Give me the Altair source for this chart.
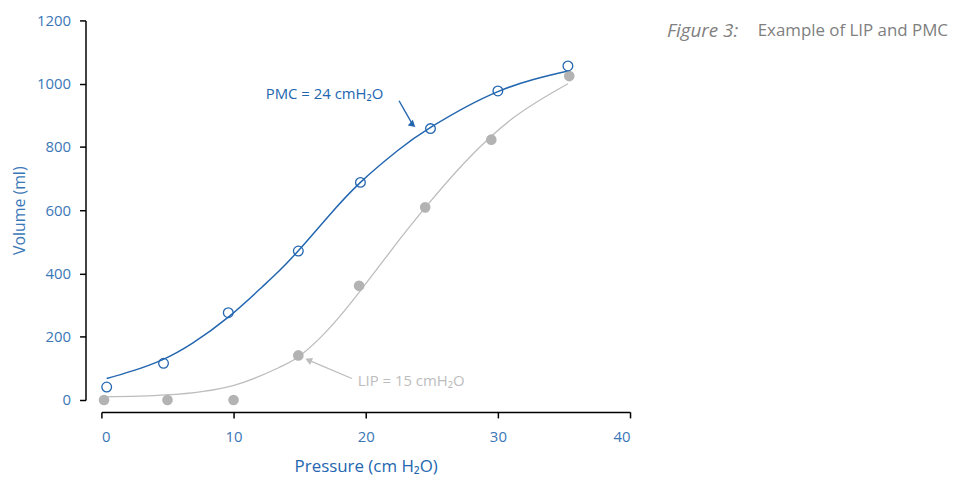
import altair as alt
import pandas as pd

# Measured points
blue_p = [0.4, 4.7, 9.6, 14.9, 19.6, 24.9, 30.0, 35.3]
blue_v = [41, 116, 276, 471, 688, 858, 977, 1056]
gray_p = [0.2, 5.0, 10.0, 14.9, 19.5, 24.5, 29.5, 35.4]
gray_v = [0, 0, 0, 141, 361, 609, 823, 1024]

# Fitted curves
bc_p = [0.4, 2.35, 4.6, 6.9, 9.6, 12.1, 13.4, 14.9, 17.2, 19.6, 22.4, 25.0, 30.0, 35.3]
bc_v = [68, 92, 127, 180, 262, 355, 406, 472, 582, 688, 788, 864, 975, 1040]
gc_p = [0.2, 4.9, 9.9, 13.4, 15.0, 17.1, 19.5, 22.2, 24.5, 27.4, 31.2, 35.3]
gc_v = [10, 16, 45, 102, 139, 220, 340, 488, 608, 747, 893, 1000]

x_ticks = [0, 10, 20, 30, 40]
y_ticks = [0, 200, 400, 600, 800, 1000, 1200]

BLUE = "#2366b0"
LBLUE = "#3a77b7"
GRAY = "#b3b3b3"
LGRAY = "#bdbdbd"
FONT = "Open Sans"

X = alt.X("x:Q", scale=alt.Scale(domain=[0, 40], nice=False),
          axis=alt.Axis(values=x_ticks, format="d", title="Pressure (cm H₂O)", offset=12,
                        grid=False, domainColor="black", domainWidth=1.5,
                        tickColor="black", tickWidth=1.5, tickSize=6,
                        labelColor=LBLUE, labelFontSize=15, labelFont=FONT,
                        labelPadding=12, titleColor=BLUE, titleFontSize=17,
                        titleFont=FONT, titleFontWeight="normal", titlePadding=14))
Y = alt.Y("y:Q", scale=alt.Scale(domain=[0, 1200], nice=False),
          axis=alt.Axis(values=y_ticks, format="d", title="Volume (ml)", offset=16,
                        grid=False, domainColor="black", domainWidth=1.5,
                        tickColor="black", tickWidth=1.5, tickSize=6,
                        labelColor=LBLUE, labelFontSize=15, labelFont=FONT,
                        labelPadding=9, titleColor=LBLUE, titleFontSize=16,
                        titleFont=FONT, titleFontWeight="normal", titlePadding=9))

bpts = pd.DataFrame({"x": blue_p, "y": blue_v})
gpts = pd.DataFrame({"x": gray_p, "y": gray_v})
bcur = pd.DataFrame({"x": bc_p, "y": bc_v})
gcur = pd.DataFrame({"x": gc_p, "y": gc_v})

gray_line = alt.Chart(gcur).mark_line(color=LGRAY, strokeWidth=1.3, interpolate="natural").encode(x=X, y=Y)
blue_line = alt.Chart(bcur).mark_line(color=BLUE, strokeWidth=1.5, interpolate="natural").encode(x=X, y=Y)
gray_dots = alt.Chart(gpts).mark_point(shape="circle", filled=True, color=GRAY, size=115, opacity=1).encode(x=X, y=Y)
blue_dots = alt.Chart(bpts).mark_point(shape="circle", filled=False, color=BLUE, size=95, strokeWidth=1.3, opacity=1).encode(x=X, y=Y)

# Annotations
pmc_text = pd.DataFrame({"x": [21.33], "y": [968], "t": ["PMC = 24 cmH₂O"]})
pmc_arrow = pd.DataFrame({"x": [22.52], "y": [946], "x2": [23.56], "y2": [870]})
pmc_head = pd.DataFrame({"x": [23.56], "y": [870]})
lip_text = pd.DataFrame({"x": [19.4], "y": [60], "t": ["LIP = 15 cmH₂O"]})
lip_arrow = pd.DataFrame({"x": [18.95], "y": [68], "x2": [15.67], "y2": [126]})
lip_head = pd.DataFrame({"x": [15.67], "y": [126]})

pmc_t = alt.Chart(pmc_text).mark_text(align="right", baseline="middle", font=FONT, fontSize=15, color=BLUE).encode(x=X, y=Y, text="t:N")
pmc_r = alt.Chart(pmc_arrow).mark_rule(color=BLUE, strokeWidth=1.4).encode(x=X, y=Y, x2="x2:Q", y2="y2:Q")
pmc_h = alt.Chart(pmc_head).mark_point(shape="triangle-up", filled=True, color=BLUE, size=60, angle=132, opacity=1).encode(x=X, y=Y)
lip_t = alt.Chart(lip_text).mark_text(align="left", baseline="middle", font=FONT, fontSize=15, color=LGRAY).encode(x=X, y=Y, text="t:N")
lip_r = alt.Chart(lip_arrow).mark_rule(color=LGRAY, strokeWidth=1.3).encode(x=X, y=Y, x2="x2:Q", y2="y2:Q")
lip_h = alt.Chart(lip_head).mark_point(shape="triangle-up", filled=True, color=LGRAY, size=60, angle=293, opacity=1).encode(x=X, y=Y)

fig_df = pd.DataFrame({"a": ["Figure 3:"], "b": ["Example of LIP and PMC"]})
fig1 = alt.Chart(fig_df).mark_text(align="center", baseline="middle", font=FONT, fontSize=19,
                                   fontStyle="italic", color="#808080").encode(
    x=alt.value(605), y=alt.value(11), text="a:N")
fig2 = alt.Chart(fig_df).mark_text(align="right", baseline="middle", font=FONT, fontSize=17,
                                   color="#808080").encode(
    x=alt.value(852), y=alt.value(11), text="b:N")

chart = alt.layer(gray_line, blue_line, gray_dots, blue_dots, pmc_r, pmc_h, pmc_t,
                  lip_r, lip_h, lip_t, fig1, fig2).properties(
    width=532, height=382,
    background="white",
    autosize=alt.AutoSizeParams(type="none"),
    padding={"left": 94, "top": 11, "right": 322, "bottom": 80},
).configure_view(stroke=None)

chart.save("out.html", embed_options={"renderer": "svg", "actions": False})
